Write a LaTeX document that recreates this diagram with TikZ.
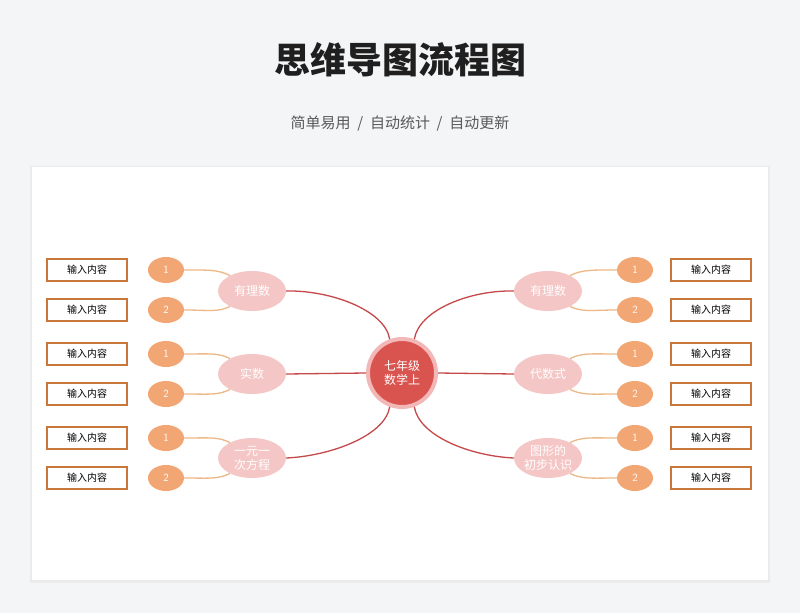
\documentclass[tikz,border=0pt]{standalone}
\usepackage{fontspec}
\newfontfamily\cjk{Noto Sans CJK SC}
\usetikzlibrary{shapes.geometric}
\definecolor{bg}{HTML}{F4F5F7}
\definecolor{mainred}{HTML}{D9534F}
\definecolor{ring}{HTML}{F2B8B8}
\definecolor{branch}{HTML}{F5C6C6}
\definecolor{num}{HTML}{F2A674}
\definecolor{line1}{HTML}{C5484A}
\definecolor{line2}{HTML}{EDB786}
\definecolor{boxc}{HTML}{C8763A}
\begin{document}
\begin{tikzpicture}[x=1pt,y=-1pt,font=\cjk,
  br/.style={ellipse,fill=branch,minimum width=68pt,minimum height=40pt,inner sep=0pt,text=white,font=\cjk\fontsize{12}{14}\selectfont,align=center},
  nm/.style={ellipse,fill=num,minimum width=36pt,minimum height=26pt,inner sep=0pt,text=white,font=\sffamily\fontsize{11}{12}\selectfont},
  bx/.style={draw=boxc,line width=1.2pt,fill=white,minimum width=80pt,minimum height=22pt,inner sep=0pt,font=\cjk\fontsize{10}{11}\selectfont},
  l1/.style={line1,line width=1.3pt},
  l2/.style={line2,line width=1.3pt}]
\useasboundingbox (0,0) rectangle (800,613);
\fill[bg] (0,0) rectangle (800,613);
\fill[black!8] (30,166) rectangle (770,583);
\fill[white] (32,167) rectangle (768,580);
\node[text=black!88] (title) at (400,60) {\fontsize{36}{42}\selectfont\bfseries 思维导图流程图};
\node[text=black!65] (sub) at (400,124) {\fontsize{15}{18}\selectfont 简单易用 \ / \ 自动统计 \ / \ 自动更新};
\node[circle,fill=mainred,draw=ring,line width=4pt,minimum size=68pt,inner sep=0pt,text=white,align=center,font=\cjk\fontsize{12}{14}\selectfont] (c) at (402,373) {七年级\\数学上};
\node[br] (L1) at (252,291) {有理数};
\node[br] (L2) at (252,374) {实数};
\node[br] (L3) at (252,458) {一元一\\次方程};
\node[br] (R1) at (548,291) {有理数};
\node[br] (R2) at (548,374) {代数式};
\node[br] (R3) at (548,458) {图形的\\初步认识};
\draw[l1] (c.110) .. controls (385,310) and (330,290) .. (L1.east);
\draw[l1] (c.west) -- (L2.east);
\draw[l1] (c.250) .. controls (385,436) and (330,456) .. (L3.east);
\draw[l1] (c.70) .. controls (419,310) and (470,290) .. (R1.west);
\draw[l1] (c.east) -- (R2.west);
\draw[l1] (c.290) .. controls (419,436) and (470,456) .. (R3.west);
\foreach \s/\y in {a/270,b/310,c/354,d/394,e/438,f/478}{
  \node[bx] (lb\s) at (87,\y) {输入内容};
  \node[bx] (rb\s) at (711,\y) {输入内容};
}
\foreach \i/\y/\n in {a/270/1,b/310/2,c/354/1,d/394/2,e/438/1,f/478/2}{
  \node[nm] (ln\i) at (166,\y) {\n};
  \node[nm] (rn\i) at (635,\y) {\n};
}
\foreach \i/\b/\d in {a/1/1,b/1/-1,c/2/1,d/2/-1,e/3/1,f/3/-1}{
  \draw[l2] (ln\i.east) .. controls +(25,0) and +(-12,-6*\d) .. (L\b.180-35*\d);
  \draw[l2] (rn\i.west) .. controls +(-25,0) and +(12,-6*\d) .. (R\b.35*\d);
}
\end{tikzpicture}
\end{document}
